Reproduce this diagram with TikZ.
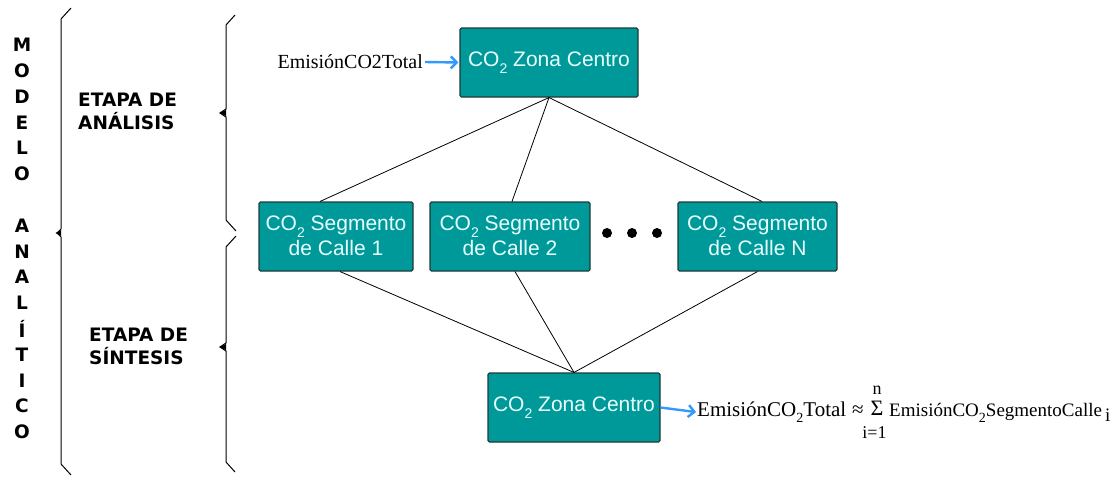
\documentclass[tikz,border=0pt]{standalone}
\usepackage{fontspec}
\setmainfont{Liberation Serif}
\newfontfamily\boxfont{Liberation Sans}
\newfontfamily\stagefont{DejaVu Sans}
\usetikzlibrary{arrows.meta}
\definecolor{boxteal}{HTML}{009999}
\definecolor{boxedge}{HTML}{1E3A3A}
\definecolor{boxtext}{HTML}{E8FFFF}
\definecolor{feedblue}{HTML}{3399FF}
% lowered small digit used for the CO2 subscripts
\newcommand\lowdigit[1]{\raisebox{-0.32em}{\fontsize{14}{14}\selectfont #1}}
\begin{document}
\begin{tikzpicture}[x=1pt,y=-1pt,
  blk/.style={draw=boxedge, line width=1.1pt, fill=boxteal, rounded corners=1.5pt,
    inner sep=0pt, text=boxtext, align=center,
    font=\boxfont\fontsize{21}{25}\selectfont},
  link/.style={draw=black, line width=0.8pt},
  feed/.style={draw=feedblue, line width=2.4pt,
    -{Straight Barb[length=6pt,width=12pt,line width=2.4pt]}},
  stage/.style={font=\stagefont\bfseries\fontsize{18.5}{23}\selectfont, align=left,
    anchor=west, inner sep=0pt},
  vlet/.style={font=\stagefont\bfseries\fontsize{18.5}{18}\selectfont, inner sep=0pt},
  brace/.style={draw=black, line width=1pt, line join=miter},
  formula/.style={font=\fontsize{21}{21}\selectfont, inner sep=0pt},
  limits/.style={font=\fontsize{18}{18}\selectfont, inner sep=0pt},
  dot/.style={circle, fill=black, inner sep=0pt, minimum size=10pt}]
\useasboundingbox (0,0) rectangle (1114,477);

% vertical title
\foreach \ch/\k in {M/0,O/1,D/2,E/3,L/4,O/5,A/7,N/8,A/9,L/10,Í/11,T/12,I/13,C/14,O/15}
  \node[vlet] (v\k) at (22,{45+25.8*\k}) {\ch};

% outer brace
\draw[brace] (71,8) -- (61,19) -- (61,229) -- (57,233) -- (61,237) -- (61,464) -- (71,475);
\fill (61,230) -- (55.5,233) -- (61,236) -- cycle;

% stage braces
\draw[brace] (235,15) -- (226,25) -- (226,109) -- (220,113) -- (226,117) -- (226,220) -- (236,231);
\fill (226,110) -- (219.5,113) -- (226,116) -- cycle;
\draw[brace] (236,236) -- (226,247) -- (226,343) -- (220,347) -- (226,351) -- (226,462) -- (235,472);
\fill (226,344) -- (219.5,347) -- (226,350) -- cycle;

% stage labels
\node[stage] (analisis) at (78,111) {ETAPA DE\\ANÁLISIS};
\node[stage] (sintesis) at (89,346) {ETAPA DE\\SÍNTESIS};

% boxes
\node[blk, minimum width=178pt, minimum height=69pt] (top) at (549,62.5)
  {CO\lowdigit{2} Zona Centro};
\node[blk, minimum width=154pt, minimum height=69pt] (s1) at (336,236.5)
  {\raisebox{2pt}{CO\lowdigit{2} Segmento}\\\raisebox{2pt}{de Calle 1}};
\node[blk, minimum width=160pt, minimum height=69pt] (s2) at (510,236.5)
  {\raisebox{2pt}{CO\lowdigit{2} Segmento}\\\raisebox{2pt}{de Calle 2}};
\node[blk, minimum width=159pt, minimum height=69pt] (sn) at (757.5,236.5)
  {\raisebox{2pt}{CO\lowdigit{2} Segmento}\\\raisebox{2pt}{de Calle N}};
\node[blk, minimum width=172pt, minimum height=69pt] (bot) at (574,407.5)
  {CO\lowdigit{2} Zona Centro};

% ellipsis between segments
\node[dot] (d1) at (607,233) {};
\node[dot] (d2) at (632,233) {};
\node[dot] (d3) at (657,233) {};

% tree connectors
\draw[link] (top.south) -- ([xshift=-16pt]s1.north);
\draw[link] (top.south) -- ([xshift=2pt]s2.north);
\draw[link] (top.south) -- ([xshift=4.5pt]sn.north);
\draw[link] ([xshift=4pt]s1.south) -- (bot.north);
\draw[link] ([xshift=5pt]s2.south) -- (bot.north);
\draw[link] (sn.south) -- (bot.north);

% input label
\node[formula, font=\fontsize{20}{20}\selectfont, anchor=east] (ftop) at (423,62) {EmisiónCO2Total};
\draw[feed] (ftop.east) ++(2pt,0) -- ([xshift=-1pt]top.west);

% output formula
\node[formula, anchor=base west] (ftot) at (697,416) {EmisiónCO\lowdigit{2}Total};
\draw[feed] (bot.east) -- ([xshift=-1pt]ftot.west);
\node[formula, anchor=base] (approx) at (858,416) {≈};
\node[limits, font=\fontsize{22}{22}\selectfont] (sig) at (877,408) {Σ};
\node[limits] (nup) at (877,390) {n};
\node[limits] (ilow) at (874.5,433) {i=1};
\node[formula, font=\fontsize{19}{19}\selectfont, anchor=base west] (fseg) at (889,416)
  {EmisiónCO\lowdigit{2}SegmentoCalle\,\raisebox{-0.3em}{i}};
\end{tikzpicture}
\end{document}
